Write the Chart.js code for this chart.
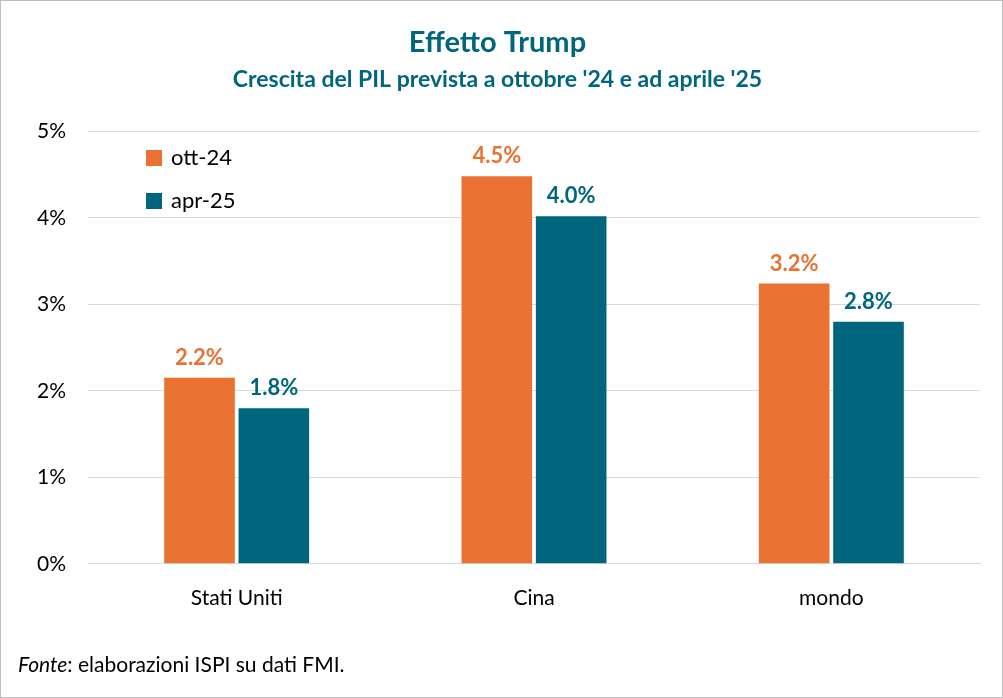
<!DOCTYPE html>
<html>
<head>
<meta charset="utf-8">
<script src="https://cdn.jsdelivr.net/npm/chart.js@4/dist/chart.umd.min.js"></script>
<style>
  body { margin: 0; background: #fff; }
  #wrap { position: relative; width: 1001px; height: 696px; border: 1px solid #bfbfbf; font-family: Lato, sans-serif; }
  #fonte { position: absolute; left: 17px; top: 650px; font-size: 21px; color: #000; }
</style>
</head>
<body>
<div id="wrap">
  <canvas id="c" width="1001" height="696"></canvas>
  <div id="fonte"><i>Fonte</i>: elaborazioni ISPI su dati FMI.</div>
</div>
<script>
const categories = ['Stati Uniti', 'Cina', 'mondo'];
const ott24 = [2.15, 4.48, 3.24];
const apr25 = [1.8, 4.02, 2.8];
const ott24Labels = ['2.2%', '4.5%', '3.2%'];
const apr25Labels = ['1.8%', '4.0%', '2.8%'];
const orange = '#E97132';
const teal = '#00667E';

// etichette sopra le barre + legenda interna
const extras = {
    id: 'extras',
    afterDatasetsDraw(chart) {
        const ctx = chart.ctx;
        ctx.save();
        ctx.font = 'bold 22px Lato, sans-serif';
        ctx.textAlign = 'center';
        ctx.textBaseline = 'bottom';
        [ott24Labels, apr25Labels].forEach((labels, i) => {
            ctx.fillStyle = chart.data.datasets[i].backgroundColor;
            chart.getDatasetMeta(i).data.forEach((bar, j) => {
                ctx.fillText(labels[j], bar.x, bar.y - 9);
            });
        });
        ctx.font = '22px Lato, sans-serif';
        ctx.textAlign = 'left';
        ctx.textBaseline = 'middle';
        chart.data.datasets.forEach((ds, i) => {
            const y = 157 + i * 43;
            ctx.fillStyle = ds.backgroundColor;
            ctx.fillRect(145, y - 8, 16, 16);
            ctx.fillStyle = '#000';
            ctx.fillText(ds.label, 170, y);
        });
        ctx.restore();
    }
};

new Chart(document.getElementById('c'), {
    type: 'bar',
    data: {
        labels: categories,
        datasets: [
            { label: 'ott-24', data: ott24, backgroundColor: orange },
            { label: 'apr-25', data: apr25, backgroundColor: teal }
        ]
    },
    options: {
        responsive: false,
        animation: false,
        layout: { padding: { left: 14, right: 22, top: 0, bottom: 72 } },
        datasets: { bar: { categoryPercentage: 0.5, barPercentage: 0.95 } },
        scales: {
            x: {
                grid: { display: false },
                border: { color: '#d9d9d9' },
                ticks: { color: '#000', font: { size: 21, family: 'Lato' }, padding: 14 }
            },
            y: {
                min: 0, max: 5,
                ticks: { stepSize: 1, color: '#000', font: { size: 21, family: 'Lato' }, padding: 22,
                    callback: v => v + '%' },
                grid: { color: '#d9d9d9', drawTicks: false },
                border: { display: false }
            }
        },
        plugins: {
            legend: { display: false },
            tooltip: { enabled: false },
            title: { display: true, text: 'Effetto Trump', color: teal,
                font: { size: 29, weight: 'bold', family: 'Lato' }, padding: { top: 24, bottom: 6 } },
            subtitle: { display: true, text: "Crescita del PIL prevista a ottobre '24 e ad aprile '25", color: teal,
                font: { size: 23, weight: 'bold', family: 'Lato' }, padding: { bottom: 38 } }
        }
    },
    plugins: [extras]
});
</script>
</body>
</html>
